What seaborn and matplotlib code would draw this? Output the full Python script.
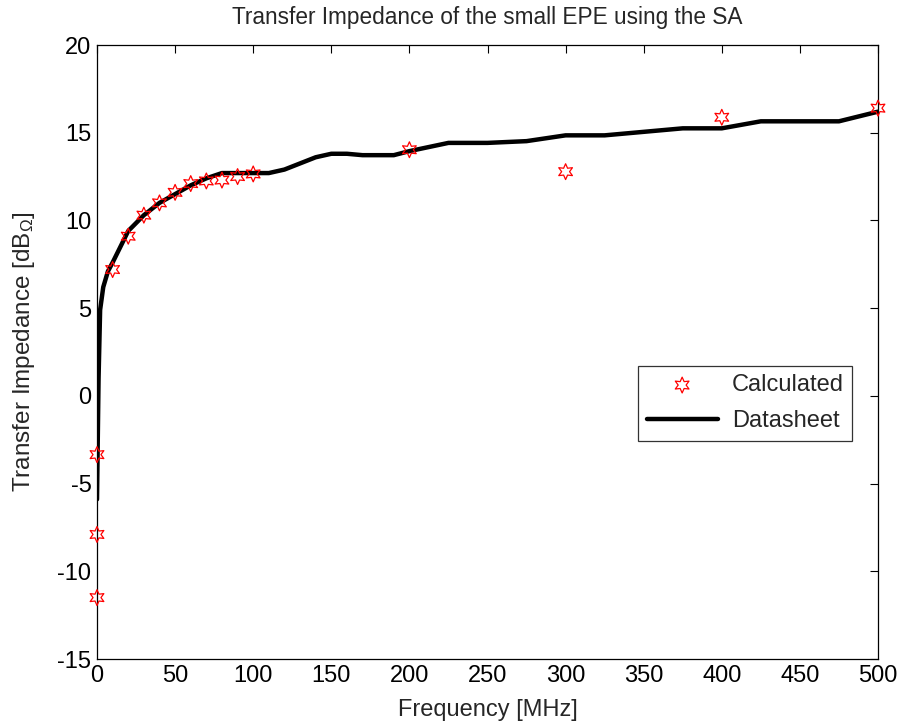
import matplotlib
matplotlib.use("Agg")
import matplotlib.pyplot as plt
import seaborn as sns
import pandas as pd

# Calculated points
calc_freq = [0, 0, 0, 10, 20, 30, 40, 50, 60, 70, 80, 90, 100, 200, 300, 400, 500]
calc_val = [-3.35, -7.9, -11.5, 7.2, 9.1, 10.3, 11.0, 11.6, 12.1, 12.25, 12.3, 12.5, 12.65,
            14.03, 12.78, 15.88, 16.4]

# Datasheet curve
ds_freq = [0, 1, 2, 4, 7, 10, 20, 30, 40, 50, 60, 70, 80, 110, 120, 130, 140, 150, 160,
           170, 190, 200, 225, 250, 275, 300, 325, 375, 400, 425, 475, 500]
ds_val = [-5.9, 1.0, 4.9, 6.2, 7.1, 7.6, 9.4, 10.3, 11.0, 11.5, 12.0, 12.4, 12.7, 12.7,
          12.9, 13.25, 13.6, 13.8, 13.8, 13.72, 13.72, 13.95, 14.42, 14.42, 14.52, 14.85,
          14.85, 15.25, 15.25, 15.65, 15.65, 16.2]

calc_df = pd.DataFrame({"freq": calc_freq, "val": calc_val})
ds_df = pd.DataFrame({"freq": ds_freq, "val": ds_val})

sns.set_style("white")
plt.rcParams["font.family"] = ["Liberation Sans", "DejaVu Sans"]
plt.rcParams["mathtext.fontset"] = "custom"
plt.rcParams["mathtext.rm"] = "Liberation Sans"
plt.rcParams["mathtext.it"] = "Liberation Sans:italic"
plt.rcParams["mathtext.bf"] = "Liberation Sans:bold"
plt.rcParams["axes.unicode_minus"] = False

fig = plt.figure(figsize=(9.01, 7.27), dpi=100)
ax = fig.add_axes([97 / 901, 1 - 659 / 727, 781 / 901, 614 / 727])

sns.scatterplot(data=calc_df, x="freq", y="val", ax=ax, marker=(6, 1, 0), s=130,
                facecolor="none", edgecolor="red", linewidth=0.9, label="Calculated",
                zorder=3, clip_on=False)
sns.lineplot(data=ds_df, x="freq", y="val", ax=ax, color="black", linewidth=3.2,
             label="Datasheet", sort=False, estimator=None, zorder=2)

ax.set_xlim(0, 500)
ax.set_ylim(-15, 20)
ax.set_xticks(range(0, 501, 50))
ax.set_yticks(range(-15, 21, 5))
ax.tick_params(axis="both", which="both", direction="in", length=6, width=0.8,
               labelsize=17, top=True, right=True, pad=4, colors="black")
for s in ax.spines.values():
    s.set_visible(True)
    s.set_color("black")
    s.set_linewidth(0.9)

ax.set_xlabel("Frequency [MHz]", fontsize=17, labelpad=9)
ax.set_ylabel(r"Transfer Impedance [dB$_{\Omega}$]", fontsize=17.5, labelpad=15)
ax.set_title("Transfer Impedance of the small EPE using the SA", fontsize=16.3, pad=15)

leg = ax.legend(loc="upper right", bbox_to_anchor=(0.9667, 0.4772), fontsize=17,
                frameon=True, fancybox=False, edgecolor="black", borderpad=0.35,
                handlelength=3.0, handletextpad=0.6, labelspacing=0.6,
                borderaxespad=0.0, markerscale=1.0)
leg.get_frame().set_linewidth(0.9)

fig.savefig("out.png", dpi=100)
